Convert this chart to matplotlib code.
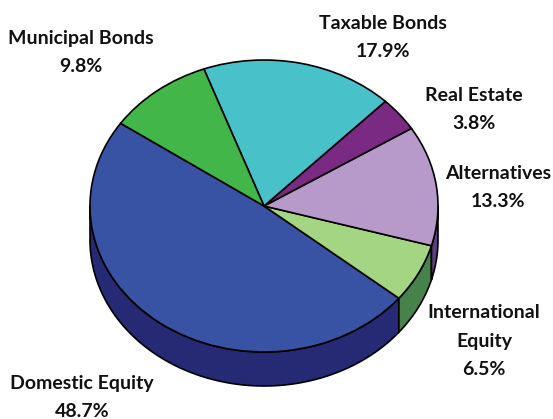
import numpy as np
import matplotlib
matplotlib.use('Agg')
import matplotlib.pyplot as plt

labels = ['Domestic Equity', 'International\nEquity', 'Alternatives', 'Real Estate', 'Taxable Bonds', 'Municipal Bonds']
values = [48.7, 6.5, 13.3, 3.8, 17.9, 9.8]
top_colors = ['#3953a4', '#a3d582', '#b89aca', '#7b2a83', '#48c1c8', '#42b649']
side_colors = ['#262a75', '#47824a', '#5c3f80', '#4a1a55', '#2a7a80', '#2a7a30']

# pixel geometry of the pie
W, H = 553, 419
cx, cy = 264, 206
rx, ry = 174, 146
depth = 34
start = 145.5

fig = plt.figure(figsize=(W / 100, H / 100), dpi=100)
ax = fig.add_axes([0, 0, 1, 1])


def ux(px):
    return (px - cx) / rx


def uy(py):
    return (cy - py) / ry


# side wall first, then the top on it
drop = depth / ry
angles = start + np.cumsum([0] + values) * 3.6
for i in range(len(values)):
    a0, a1 = angles[i], angles[i + 1]
    # only the front half of the rim shows
    for shift in (0, 360):
        lo = max(a0, 180 + shift)
        hi = min(a1, 360 + shift)
        if hi <= lo:
            continue
        t = np.radians(np.linspace(lo, hi, 100))
        xs = np.concatenate([np.cos(t), np.cos(t[::-1])])
        ys = np.concatenate([np.sin(t), np.sin(t[::-1]) - drop])
        ax.fill(xs, ys, facecolor=side_colors[i], edgecolor='black', linewidth=1.2, joinstyle='round')

ax.pie(values, colors=top_colors, startangle=start, counterclock=True, radius=1,
       wedgeprops={'edgecolor': 'black', 'linewidth': 1.2})

ax.set_aspect('auto')
ax.set_xlim(ux(0), ux(W))
ax.set_ylim(uy(H), uy(0))
ax.axis('off')

font = {'family': 'Lato', 'weight': 'bold', 'fontsize': 14, 'color': '#111111',
        'ha': 'center', 'va': 'center', 'linespacing': 1.85}

# label, percent, pixel centre of the block
text_pos = [(82, 397.5), (484, 341), (498, 187.5), (474, 109.5), (383, 37.5), (81, 52.5)]
for name, val, (px, py) in zip(labels, values, text_pos):
    ax.text(ux(px), uy(py), f'{name}\n{val}%', **font)

fig.savefig('out.png', dpi=100)
